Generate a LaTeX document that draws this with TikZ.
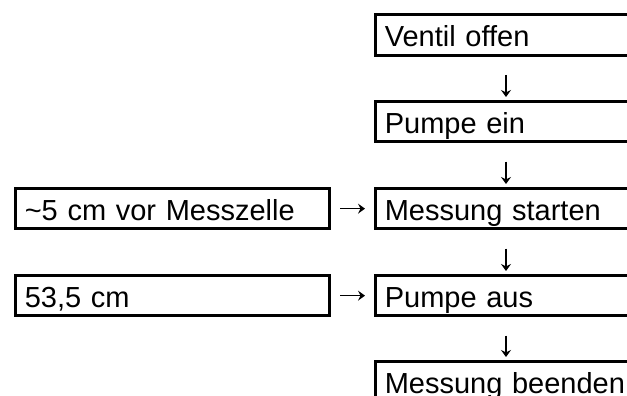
\documentclass[tikz,border=0pt]{standalone}
\usepackage{fontspec}
\setmainfont{Liberation Sans}
\usetikzlibrary{arrows.meta}
\begin{document}
\begin{tikzpicture}[x=1pt,y=-1pt,
  stepbox/.style={draw=black,line width=3pt,rectangle,anchor=north west,
    minimum height=40.3pt,text height=24pt,text depth=0pt,
    inner xsep=9pt,inner ysep=0pt,align=left,
    font=\fontsize{29}{34}\selectfont},
  rbox/.style={stepbox,text width=262pt},
  lbox/.style={stepbox,text width=295.4pt},
  conn/.style={line width=1.4pt,-{Stealth[length=7pt,width=10pt,inset=2.5pt]}}]
\clip (0,0) rectangle (627,396);
\fill[white] (0,0) rectangle (627,396);
\node[rbox] (v1) at (374.3,13.3) {Ventil offen};
\node[rbox] (v2) at (374.3,100) {Pumpe ein};
\node[rbox] (v3) at (374.3,187) {Messung starten};
\node[rbox] (v4) at (374.3,274) {Pumpe aus};
\node[rbox] (v5) at (374.3,360) {Messung beenden};
\node[lbox] (l1) at (14.3,187) {\textasciitilde 5 cm vor Messzelle};
\node[lbox] (l2) at (14.3,274) {53,5 cm};
\coordinate (ax) at (506,0);
\draw[conn,shorten <=18.4pt,shorten >=3pt] (v1.south -| ax) -- (v2.north -| ax);
\draw[conn,shorten <=18.4pt,shorten >=3pt] (v2.south -| ax) -- (v3.north -| ax);
\draw[conn,shorten <=18.4pt,shorten >=3pt] (v3.south -| ax) -- (v4.north -| ax);
\draw[conn,shorten <=18.4pt,shorten >=3pt] (v4.south -| ax) -- (v5.north -| ax);
\draw[conn,shorten <=9.3pt,shorten >=9.3pt] (l1.east) -- (l1.east -| v3.west);
\draw[conn,shorten <=9.3pt,shorten >=9.3pt] (l2.east) -- (l2.east -| v4.west);
\end{tikzpicture}
\end{document}
